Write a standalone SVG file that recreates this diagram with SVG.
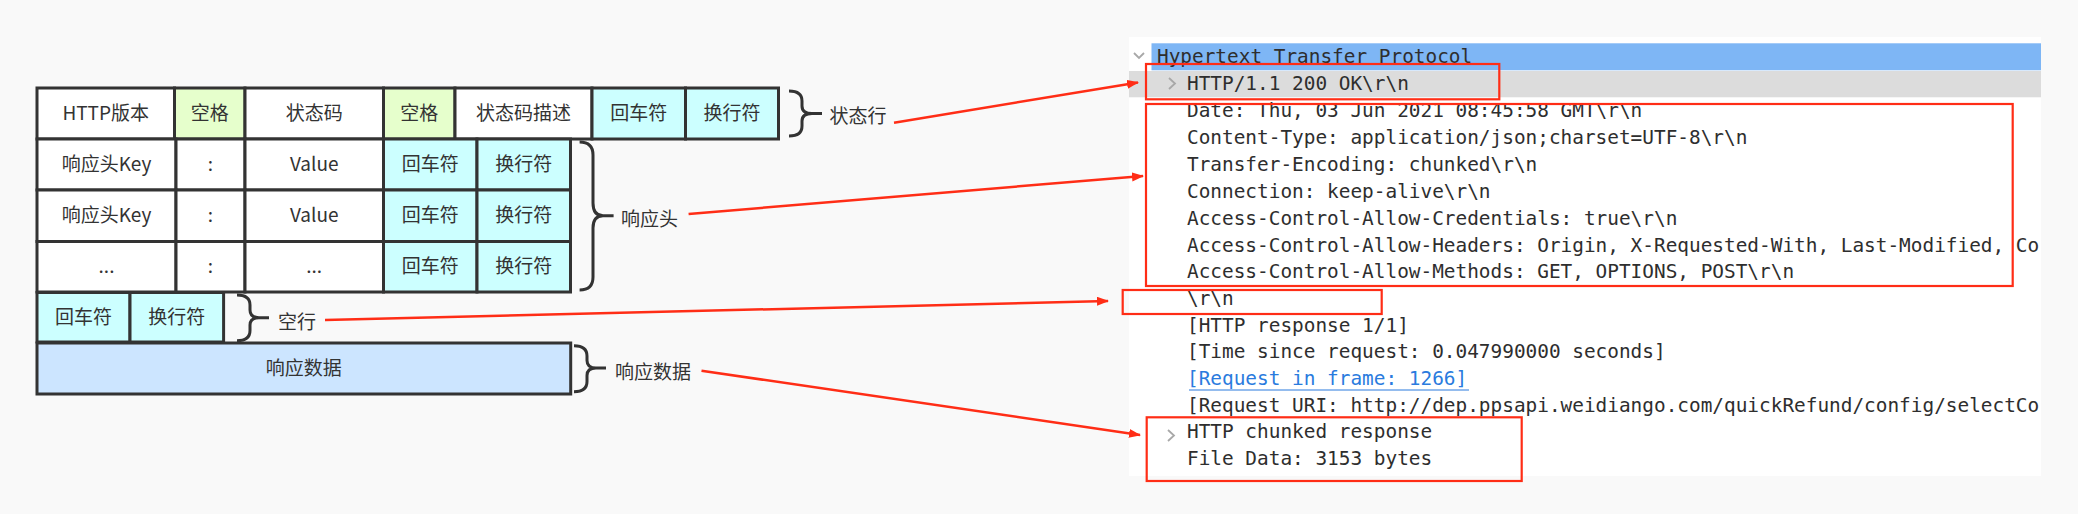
<svg xmlns="http://www.w3.org/2000/svg" width="2078" height="514" viewBox="0 0 2078 514">
<style>
.cell{stroke:#333333;stroke-width:3}
.w{fill:#FFFFFF}
.g{fill:#E6FFCC}
.c{fill:#CCFFFF}
.b{fill:#CCE5FF}
.t{font-family:"Noto Sans CJK SC","Liberation Sans",sans-serif;font-size:19px;fill:#333333;text-anchor:middle}
.lbl{font-family:"Noto Sans CJK SC","Liberation Sans",sans-serif;font-size:19px;fill:#333333}
.brace{fill:none;stroke:#333333;stroke-width:3}
.mono{font-family:"DejaVu Sans Mono","Liberation Mono",monospace;font-size:19.4px;fill:#2E2E2E}
.redbox{fill:none;stroke:#FF2D16;stroke-width:2.2}
.conn{fill:none;stroke:#FF2D16;stroke-width:2.5}
.chev{fill:none;stroke:#A8A8A8;stroke-width:1.8}
</style>
<defs>
<marker id="ah" markerUnits="userSpaceOnUse" markerWidth="12" markerHeight="10" refX="11" refY="4.5" orient="auto">
<path d="M0,0 L12,4.5 L0,9 z" fill="#FF2D16"/>
</marker>
<clipPath id="panelClip"><rect x="1129" y="37" width="912" height="439"/></clipPath>
</defs>
<rect x="0" y="0" width="2078" height="514" fill="#F9F9F9"/>

<g id="status-line">
<rect class="cell w" x="37" y="88" width="137.5" height="51"/>
<rect class="cell g" x="174.5" y="88" width="70.5" height="51"/>
<rect class="cell w" x="245" y="88" width="138.5" height="51"/>
<rect class="cell g" x="383.5" y="88" width="71.5" height="51"/>
<rect class="cell w" x="455" y="88" width="137" height="51"/>
<rect class="cell c" x="592" y="88" width="93.5" height="51"/>
<rect class="cell c" x="685.5" y="88" width="93" height="51"/>
<text class="t" x="105.7" y="120">HTTP版本</text>
<text class="t" x="209.7" y="120">空格</text>
<text class="t" x="314.2" y="120">状态码</text>
<text class="t" x="419.2" y="120">空格</text>
<text class="t" x="523.5" y="120">状态码描述</text>
<text class="t" x="638.7" y="120">回车符</text>
<text class="t" x="732" y="120">换行符</text>
</g>

<g id="header-row-1">
<rect class="cell w" x="37" y="139" width="139" height="51"/>
<rect class="cell w" x="176" y="139" width="69" height="51"/>
<rect class="cell w" x="245" y="139" width="138.5" height="51"/>
<rect class="cell c" x="383.5" y="139" width="93.5" height="51"/>
<rect class="cell c" x="477" y="139" width="93.5" height="51"/>
<text class="t" x="106.5" y="171">响应头Key</text>
<text class="t" x="210.5" y="171">:</text>
<text class="t" x="314.2" y="171">Value</text>
<text class="t" x="430.2" y="171">回车符</text>
<text class="t" x="523.7" y="171">换行符</text>
</g>

<g id="header-row-2">
<rect class="cell w" x="37" y="190" width="139" height="51.5"/>
<rect class="cell w" x="176" y="190" width="69" height="51.5"/>
<rect class="cell w" x="245" y="190" width="138.5" height="51.5"/>
<rect class="cell c" x="383.5" y="190" width="93.5" height="51.5"/>
<rect class="cell c" x="477" y="190" width="93.5" height="51.5"/>
<text class="t" x="106.5" y="222">响应头Key</text>
<text class="t" x="210.5" y="222">:</text>
<text class="t" x="314.2" y="222">Value</text>
<text class="t" x="430.2" y="222">回车符</text>
<text class="t" x="523.7" y="222">换行符</text>
</g>

<g id="header-row-3">
<rect class="cell w" x="37" y="241.5" width="139" height="50.5"/>
<rect class="cell w" x="176" y="241.5" width="69" height="50.5"/>
<rect class="cell w" x="245" y="241.5" width="138.5" height="50.5"/>
<rect class="cell c" x="383.5" y="241.5" width="93.5" height="50.5"/>
<rect class="cell c" x="477" y="241.5" width="93.5" height="50.5"/>
<text class="t" x="106.5" y="273">...</text>
<text class="t" x="210.5" y="273">:</text>
<text class="t" x="314.2" y="273">...</text>
<text class="t" x="430.2" y="273">回车符</text>
<text class="t" x="523.7" y="273">换行符</text>
</g>

<g id="empty-line">
<rect class="cell c" x="37" y="292.5" width="93" height="49.5"/>
<rect class="cell c" x="130" y="292.5" width="93.6" height="49.5"/>
<text class="t" x="83.5" y="323.5">回车符</text>
<text class="t" x="176.8" y="323.5">换行符</text>
</g>

<g id="body-data">
<rect class="cell b" x="37" y="343" width="533.7" height="51"/>
<text class="t" x="303.8" y="375">响应数据</text>
</g>

<g id="brace-status">
<path class="brace" d="M789,91 Q802,91 802,101 V106 Q802,113.5 812,113.5 H822 M812,113.5 Q802,113.5 802,121 V126 Q802,136 789,136"/>
<text class="lbl" x="829.5" y="123">状态行</text>
</g>
<g id="brace-headers">
<path class="brace" d="M579.6,142 Q593,142 593,155 V203 Q593,215.7 603,215.7 H613.6 M603,215.7 Q593,215.7 593,228 V277 Q593,290 579.6,290"/>
<text class="lbl" x="621" y="225.5">响应头</text>
</g>
<g id="brace-empty">
<path class="brace" d="M237,295 Q250,295 250,305 V310 Q250,317.7 259,317.7 H269 M259,317.7 Q250,317.7 250,325 V330.5 Q250,340.7 237,340.7"/>
<text class="lbl" x="278" y="328.5">空行</text>
</g>
<g id="brace-body">
<path class="brace" d="M574,345.7 Q587,345.7 587,356 V360.5 Q587,368 596,368 H606 M596,368 Q587,368 587,375.5 V381.5 Q587,391.7 574,391.7"/>
<text class="lbl" x="615" y="378.5">响应数据</text>
</g>

<g id="wireshark-panel">
<rect x="1129" y="37" width="912" height="439" fill="#FFFFFF"/>
<g clip-path="url(#panelClip)">
<rect x="1151.5" y="43.3" width="889.5" height="27" fill="#7EB6F5"/>
<rect x="1129" y="71" width="912" height="26.3" fill="#DCDCDC"/>
<polyline class="chev" points="1134,53 1139,58 1144,53"/>
<polyline class="chev" points="1169,78 1175,83.5 1169,89"/>
<polyline class="chev" points="1168,430 1174,435.5 1168,441"/>
<text class="mono" x="1157" y="63" fill="#1A1A1A">Hypertext Transfer Protocol</text>
<text class="mono" x="1187" y="90">HTTP/1.1 200 OK\r\n</text>
<text class="mono" x="1187" y="117">Date: Thu, 03 Jun 2021 08:45:58 GMT\r\n</text>
<text class="mono" x="1187" y="144">Content-Type: application/json;charset=UTF-8\r\n</text>
<text class="mono" x="1187" y="171">Transfer-Encoding: chunked\r\n</text>
<text class="mono" x="1187" y="198">Connection: keep-alive\r\n</text>
<text class="mono" x="1187" y="225">Access-Control-Allow-Credentials: true\r\n</text>
<text class="mono" x="1187" y="251.7">Access-Control-Allow-Headers: Origin, X-Requested-With, Last-Modified, Co</text>
<text class="mono" x="1187" y="278.3">Access-Control-Allow-Methods: GET, OPTIONS, POST\r\n</text>
<text class="mono" x="1187" y="305">\r\n</text>
<text class="mono" x="1187" y="331.7">[HTTP response 1/1]</text>
<text class="mono" x="1187" y="358.3">[Time since request: 0.047990000 seconds]</text>
<text class="mono" x="1187" y="385" style="fill:#2A7BDE">[Request in frame: 1266]</text>
<line x1="1189" y1="390" x2="1469" y2="390" stroke="#2A7BDE" stroke-width="1.2"/>
<text class="mono" x="1187" y="411.7">[Request URI: http://dep.ppsapi.weidiango.com/quickRefund/config/selectCo</text>
<text class="mono" x="1187" y="438.3">HTTP chunked response</text>
<text class="mono" x="1187" y="465">File Data: 3153 bytes</text>
</g>
</g>

<g id="highlight-boxes">
<rect class="redbox" x="1146" y="64" width="353.3" height="35.3"/>
<rect class="redbox" x="1146" y="104" width="866.7" height="182"/>
<rect class="redbox" x="1122.7" y="290" width="259" height="24"/>
<rect class="redbox" x="1146.7" y="417.3" width="375" height="63.7"/>
</g>

<g id="connectors">
<line class="conn" x1="894" y1="122.7" x2="1138" y2="82.5" marker-end="url(#ah)"/>
<line class="conn" x1="688.6" y1="214" x2="1143" y2="176" marker-end="url(#ah)"/>
<line class="conn" x1="325" y1="320" x2="1108" y2="301" marker-end="url(#ah)"/>
<line class="conn" x1="701.5" y1="370.7" x2="1140" y2="435" marker-end="url(#ah)"/>
</g>
</svg>
